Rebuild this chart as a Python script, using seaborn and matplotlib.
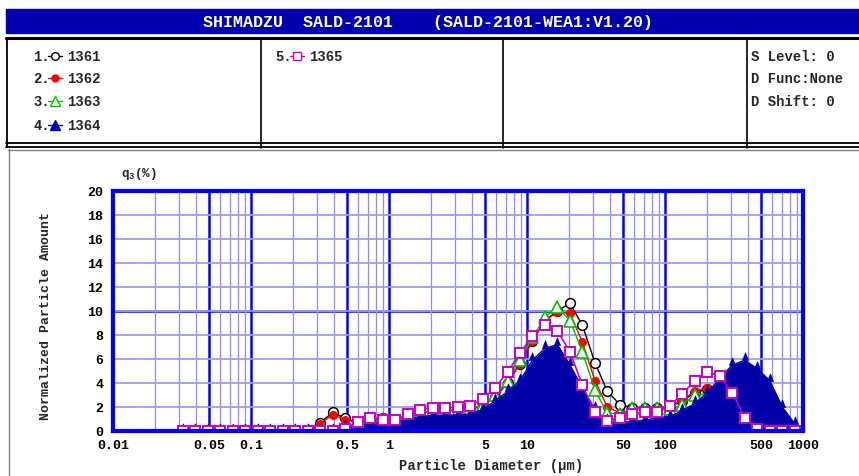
import matplotlib
matplotlib.use("Agg")
import numpy as np
import pandas as pd
import seaborn as sns
import matplotlib.pyplot as plt
from matplotlib.lines import Line2D
from matplotlib.patches import Rectangle
from matplotlib.ticker import LogLocator, NullFormatter

# ---------------- data ----------------
diam = [0.0321, 0.0395, 0.0487, 0.0599, 0.0738, 0.0909, 0.112, 0.138, 0.170, 0.209,
        0.258, 0.317, 0.391, 0.481, 0.593, 0.730, 0.899, 1.107, 1.364, 1.680,
        2.069, 2.548, 3.138, 3.866, 4.761, 5.865, 7.224, 8.897, 10.96, 13.50,
        16.62, 20.48, 25.22, 31.06, 38.26, 47.12, 58.04, 71.49, 88.06, 108.5,
        133.6, 164.6, 202.7, 249.7, 307.5, 378.8, 466.5, 574.6, 707.8, 871.8]

s1361 = [0, 0, 0, 0, 0, 0, 0, 0, 0, 0,
         0.1, 0.7, 1.55, 1.05, 0.7, 0.9, 1.1, 0.9, 1.2, 1.5,
         1.7, 1.7, 1.75, 1.8, 2.1, 2.8, 4.0, 5.6, 7.5, 9.2,
         10.0, 10.65, 8.8, 5.7, 3.3, 2.2, 1.95, 1.95, 1.9, 2.0,
         2.5, 3.2, 3.5, 3.5, 2.5, 0.8, 0, 0, 0, 0]

s1362 = [0, 0, 0, 0, 0, 0, 0, 0, 0, 0,
         0.1, 0.6, 1.35, 0.95, 0.7, 0.9, 1.2, 0.9, 1.2, 1.5,
         1.7, 1.7, 1.75, 1.8, 2.1, 2.8, 4.0, 5.6, 7.5, 9.2,
         9.9, 9.8, 7.4, 4.2, 2.0, 1.5, 1.7, 1.8, 1.9, 2.1,
         2.6, 3.3, 3.6, 3.4, 2.3, 0.6, 0, 0, 0, 0]

s1363 = [0, 0, 0, 0, 0, 0, 0, 0, 0, 0,
         0, 0, 0, 0, 0.5, 0.8, 0.7, 0.7, 1.1, 1.5,
         1.7, 1.65, 1.7, 1.8, 2.2, 3.0, 4.2, 5.9, 7.8, 9.5,
         10.3, 9.2, 6.6, 3.4, 1.5, 1.4, 1.9, 1.95, 1.95, 1.8,
         2.2, 3.0, 3.1, 3.0, 2.0, 0.3, 0, 0, 0, 0]

s1364 = [0, 0, 0, 0, 0, 0, 0, 0, 0, 0,
         0, 0, 0, 0.3, 0.6, 0.65, 0.7, 0.75, 1.0, 1.2,
         1.3, 1.3, 1.35, 1.4, 1.8, 2.5, 3.3, 4.2, 5.9, 6.9,
         7.2, 5.5, 3.6, 1.8, 0.8, 0.7, 0.8, 0.9, 1.1, 1.2,
         1.7, 2.3, 3.2, 4.4, 5.5, 5.9, 5.2, 4.2, 2.0, 0.6]

s1365 = [0, 0, 0, 0, 0, 0, 0, 0, 0, 0,
         0, 0, 0, 0.2, 0.75, 1.06, 0.88, 0.92, 1.4, 1.78,
         1.95, 1.9, 1.98, 2.1, 2.65, 3.6, 4.9, 6.5, 7.9, 8.85,
         8.35, 6.6, 3.8, 1.58, 0.84, 1.05, 1.4, 1.55, 1.6, 2.1,
         3.1, 4.2, 4.9, 4.6, 3.2, 1.1, 0.15, 0, 0, 0]

x_ticks = [0.01, 0.05, 0.1, 0.5, 1, 5, 10, 50, 100, 500, 1000]
x_tick_labels = ["0.01", "0.05", "0.1", "0.5", "1", "5", "10", "50", "100", "500", "1000"]
y_ticks = [0, 2, 4, 6, 8, 10, 12, 14, 16, 18, 20]

# ---------------- style ----------------
sns.set_style("white")
plt.rcParams["font.family"] = ["Liberation Mono", "DejaVu Sans Mono", "DejaVu Sans"]
plt.rcParams["font.weight"] = "bold"

W, H = 859, 477


def fx(p):
    return p / W


def fy(p):
    return 1 - p / H


BLACK = "#000000"
RED = "#ff0000"
GREEN = "#00c000"
NAVY = "#0000a8"
MAG = "#c800c8"
GRIDB = "#0000ff"

fig = plt.figure(figsize=(W / 100, H / 100), dpi=100)
ax = fig.add_axes([fx(113), 1 - 432 / H, 690 / W, 240 / H])
ax.set_xscale("log")

# base-anchored triangle marker (base at the data value)
tri_up = [(-0.8, 0), (0.8, 0), (0, 2), (-0.8, 0)]

df = pd.DataFrame({"d": diam, "1361": s1361, "1362": s1362, "1363": s1363,
                   "1364": s1364, "1365": s1365})

common = dict(ax=ax, legend=False, linewidth=1.0)
sns.lineplot(data=df, x="d", y="1361", color=BLACK, marker="o", markersize=7,
             markerfacecolor="white", markeredgecolor=BLACK, markeredgewidth=1.1,
             zorder=3.0, **common)
sns.lineplot(data=df, x="d", y="1362", color=RED, marker="o", markersize=5.5,
             markerfacecolor=RED, markeredgecolor=RED, markeredgewidth=1,
             zorder=3.2, **common)
sns.lineplot(data=df, x="d", y="1363", color=GREEN, marker="^", markersize=8,
             markerfacecolor="white", markeredgecolor=GREEN, markeredgewidth=1.2,
             zorder=3.4, **common)
ax.fill_between(df["d"], 0, df["1364"], color=NAVY, lw=0, zorder=4)
sns.lineplot(data=df, x="d", y="1364", color=NAVY, marker=tri_up, markersize=11,
             markerfacecolor=NAVY, markeredgecolor=NAVY, markeredgewidth=0.5,
             zorder=4.2, **common)
sns.lineplot(data=df, x="d", y="1365", color=MAG, marker="s", markersize=7.5,
             markerfacecolor="white", markeredgecolor=MAG, markeredgewidth=1.4,
             zorder=5, ax=ax, legend=False, linewidth=1.2)

ax.set_xlim(0.01, 1000)
ax.set_ylim(0, 20)
ax.set_xlabel("")
ax.set_ylabel("")

ax.set_xticks(x_ticks)
ax.set_xticklabels(x_tick_labels)
ax.xaxis.set_minor_locator(LogLocator(base=10, subs=[2, 3, 4, 6, 7, 8, 9], numticks=100))
ax.xaxis.set_minor_formatter(NullFormatter())
ax.set_yticks(y_ticks)
ax.set_yticklabels([str(v) for v in y_ticks])

ax.set_axisbelow(True)
ax.grid(which="major", axis="x", color=GRIDB, lw=1.8, zorder=0)
ax.grid(which="minor", axis="x", color="#8c8cff", lw=0.9, zorder=0)
ax.grid(which="major", axis="y", color="#9c9cff", lw=1.3, zorder=0)
ax.axhline(10, color=GRIDB, lw=1.8, zorder=0.5)

for s in ax.spines.values():
    s.set_color(GRIDB)
    s.set_linewidth(3)
    s.set_zorder(6)

ax.tick_params(axis="both", which="both", length=0, labelsize=9.5, colors="black")
ax.tick_params(axis="x", pad=6)
ax.tick_params(axis="y", pad=7)
for lab in ax.get_xticklabels() + ax.get_yticklabels():
    lab.set_fontweight("bold")

# axis titles
fig.text(fx(46), fy(316), "Normalized Particle Amount", rotation=90, ha="center",
         va="center", fontsize=9.5, fontweight="bold")
fig.text(fx(491), fy(466), "Particle Diameter (μm)", ha="center", va="center",
         fontsize=10, fontweight="bold")
fig.text(fx(121), fy(174), r"q$_\mathregular{3}$(%)", ha="left", va="center",
         fontsize=9, fontweight="bold")

# ---------------- header & info table ----------------
fig.add_artist(Rectangle((fx(6), fy(34)), fx(W) - fx(6), fy(10) - fy(34),
                         transform=fig.transFigure, color="#0000b0", zorder=1))
fig.text(fx(428), fy(22.5), "SHIMADZU  SALD-2101    (SALD-2101-WEA1:V1.20)",
         color="white", ha="center", va="center", fontsize=12, fontweight="bold")


def hline(y, x0, x1, lw=1.5, color="black"):
    fig.add_artist(Line2D([fx(x0), fx(x1)], [fy(y), fy(y)], transform=fig.transFigure,
                          color=color, lw=lw))


def vline(x, y0, y1, lw=1.2, color="black"):
    fig.add_artist(Line2D([fx(x), fx(x)], [fy(y0), fy(y1)], transform=fig.transFigure,
                          color=color, lw=lw))


hline(39, 6, W, lw=2.2)
hline(143.5, 6, W, lw=1.3)
hline(147.5, 6, W, lw=1.3)
vline(6.5, 39, 147.5, lw=1.3)
for xd in (261, 503, 747):
    vline(xd, 39, 149, lw=1.2)

# chart panel border
hline(150.5, 8, W, lw=1.0, color="#808080")
vline(8.5, 150, H, lw=1.0, color="#808080")

legend_rows = [
    ("1.", "1361", BLACK, "o", "white", 5.5, 33, 57),
    ("2.", "1362", RED, "o", RED, 5, 33, 79),
    ("3.", "1363", GREEN, "^", "white", 7, 33, 102),
    ("4.", "1364", NAVY, "^", NAVY, 7, 33, 126),
    ("5.", "1365", MAG, "s", "white", 6, 275, 57),
]
for num, name, col, mk, mfc, ms, x0, y in legend_rows:
    fig.text(fx(x0), fy(y), num, ha="left", va="center", fontsize=10, fontweight="bold")
    fig.add_artist(Line2D([fx(x0 + 15), fx(x0 + 22), fx(x0 + 29)], [fy(y)] * 3,
                          transform=fig.transFigure, color=col, lw=1, marker=mk,
                          markevery=[1], markersize=ms, markerfacecolor=mfc,
                          markeredgecolor=col))
    fig.text(fx(x0 + 34), fy(y), name, ha="left", va="center", fontsize=10,
             fontweight="bold")

for txt, y in (("S Level: 0", 57), ("D Func:None", 79), ("D Shift: 0", 102)):
    fig.text(fx(751), fy(y), txt, ha="left", va="center", fontsize=10, fontweight="bold")

fig.savefig("out.png", dpi=100)
